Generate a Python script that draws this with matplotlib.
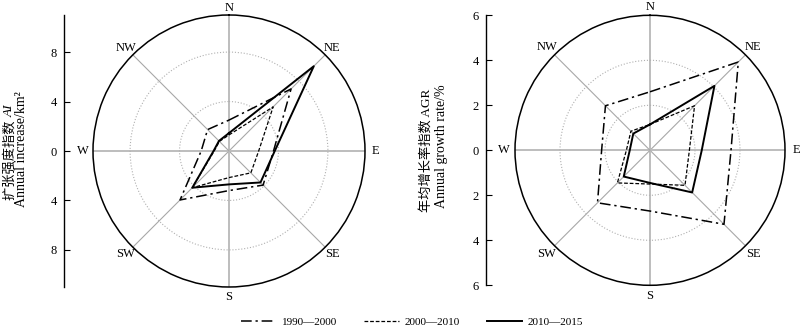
import numpy as np
import matplotlib
matplotlib.use('Agg')
import matplotlib.pyplot as plt

plt.rcParams['font.family'] = ['Liberation Serif', 'Noto Sans CJK SC']

directions = ['N', 'NE', 'E', 'SE', 'S', 'SW', 'W', 'NW']
periods = ['1990—2000', '2000—2010', '2010—2015']

# expansion intensity AI, km2 per year (N, NE, E, SE, S, SW, W, NW)
ai_1990 = [2.5, 7.1, 3.6, 3.9, 3.2, 5.6, 2.25, 2.45]
ai_2000 = [1.3, 5.05, 2.4, 2.5, 2.15, 4.2, 1.2, 1.1]
ai_2010 = [1.45, 9.7, 3.7, 3.6, 2.7, 4.2, 1.25, 1.15]

# annual growth rate AGR, %
agr_1990 = [2.6, 5.55, 3.6, 4.65, 2.7, 3.3, 2.15, 2.8]
agr_2000 = [1.15, 2.8, 1.75, 2.2, 1.5, 2.05, 1.05, 1.2]
agr_2010 = [1.15, 4.05, 2.3, 2.65, 1.45, 1.65, 0.9, 1.05]

ai_ticks = [-8, -4, 0, 4, 8]
agr_ticks = [-6, -4, -2, 0, 2, 4, 6]

styles = [(0, (7, 2.5, 1.5, 2.5)), (0, (3, 1.5)), '-']
widths = [1.1, 0.9, 1.4]

W, H = 800, 331
fig = plt.figure(figsize=(8, 3.31), dpi=100)


def rose(cx, cy, rad, series, rmax, rings):
    rect = [(cx - rad) / W, (H - cy - rad) / H, 2 * rad / W, 2 * rad / H]
    ax = fig.add_axes(rect, projection='polar')
    ax.set_theta_zero_location('N')
    ax.set_theta_direction(-1)
    theta = np.deg2rad(np.arange(0, 360, 45))
    for vals, ls, lw, lab in zip(series, styles, widths, periods):
        ax.plot(np.append(theta, theta[0]), np.append(vals, vals[0]),
                color='k', ls=ls, lw=lw, label=lab)
    ax.set_ylim(0, rmax)
    ax.set_yticks(rings)
    ax.set_yticklabels([])
    ax.set_xticks(theta)
    ax.set_xticklabels([])
    ax.set_xticks(np.deg2rad(np.arange(22.5, 360, 45)), minor=True)
    ax.tick_params(axis='x', which='major', length=0)
    ax.tick_params(axis='x', which='minor', length=4, direction='in', width=0.8)
    ax.yaxis.grid(True, color='#b0b0b0', ls=':', lw=0.8)
    ax.xaxis.grid(True, color='#a8a8a8', lw=0.8)
    for i, gl in enumerate(ax.get_xgridlines()):
        if i % 2 == 0:
            gl.set_linewidth(1.4)
            gl.set_color('#bdbdbd')
    ax.spines['polar'].set_linewidth(1.1)
    # direction names just outside the rim
    for t, d in zip(theta, directions):
        dist = 143 if d == 'N' else 146
        ax.text(t, rmax * dist / rad, d, ha='center', va='center', fontsize=9, clip_on=False)
    return rect, ax


def side_axis(x, rect, rmax, ticks):
    ay = fig.add_axes([x / W, rect[1], 0.0001, rect[3]])
    ay.set_ylim(-rmax, rmax)
    for s in ['top', 'right', 'bottom']:
        ay.spines[s].set_visible(False)
    ay.spines['left'].set_linewidth(1.0)
    ay.set_xticks([])
    ay.set_yticks(ticks)
    ay.set_yticklabels([str(abs(t)) for t in ticks])
    ay.tick_params(axis='y', direction='in', length=4, pad=5, labelsize=9)
    ay.patch.set_visible(False)


rect1, ax1 = rose(229, 151, 136, [ai_1990, ai_2000, ai_2010], 11, [4, 8])
side_axis(63.5, rect1, 11, ai_ticks)
rect2, ax2 = rose(650, 150.3, 135, [agr_1990, agr_2000, agr_2010], 6, [2, 4])
side_axis(486, rect2, 6, agr_ticks)

# y labels
t1 = fig.text(10 / W, 1 - 200 / H, '扩张强度指数 ', rotation=90, rotation_mode='anchor',
              ha='left', va='center', fontsize=9.5)
ax1.annotate('AI', xy=(0.5, 1), xycoords=t1, ha='center', va='bottom',
             rotation=90, fontstyle='italic', fontsize=9.5, annotation_clip=False)
fig.text(22 / W, 1 - 149 / H, 'Annual increase/km²', rotation=90,
         ha='center', va='center', fontsize=10)
fig.text(426 / W, 1 - 150.5 / H, '年均增长率指数 AGR', rotation=90,
         ha='center', va='center', fontsize=9.5)
fig.text(441 / W, 1 - 146.5 / H, 'Annual growth rate/%', rotation=90,
         ha='center', va='center', fontsize=10)

h, l = ax1.get_legend_handles_labels()
fig.legend(h, l, loc='center', bbox_to_anchor=(0.515, 0.028), ncol=3, frameon=False,
           handlelength=3.2, columnspacing=2.4, handletextpad=0.5, fontsize=8)

fig.savefig('out.png', dpi=100)
